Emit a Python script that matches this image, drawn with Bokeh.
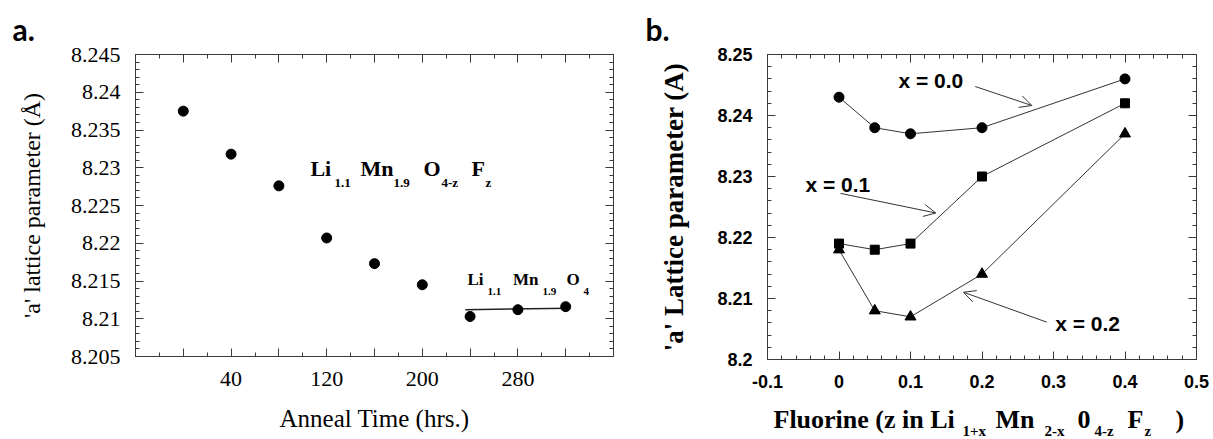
from bokeh.plotting import figure
from bokeh.layouts import row, column
from bokeh.models import (LinearAxis, FixedTicker, CustomJSTickFormatter, Label,
                          Arrow, OpenHead, Range1d)
from bokeh.embed import file_html
from bokeh.resources import INLINE

# ---------------- panel a data ----------------
anneal_time = [0, 40, 80, 120, 160, 200, 240, 280, 320]
lattice_a = [8.2375, 8.2318, 8.2276, 8.2207, 8.2173, 8.2145, 8.2103, 8.2112, 8.2116]
undoped_time = [236, 324]
undoped_a = [8.2112, 8.2114]
a_x_major = [-40, 0, 40, 80, 120, 160, 200, 240, 280, 320, 360]
a_x_labelled = [40, 120, 200, 280]
a_y_major = [8.205, 8.21, 8.215, 8.22, 8.225, 8.23, 8.235, 8.24, 8.245]

# ---------------- panel b data ----------------
fluorine_z = [0, 0.05, 0.1, 0.2, 0.4]
a_lat_x00 = [8.243, 8.238, 8.237, 8.238, 8.246]
a_lat_x01 = [8.219, 8.218, 8.219, 8.230, 8.242]
a_lat_x02 = [8.218, 8.208, 8.207, 8.214, 8.237]
b_x_major = [-0.1, 0, 0.1, 0.2, 0.3, 0.4, 0.5]
b_y_major = [8.2, 8.21, 8.22, 8.23, 8.24, 8.25]

LINE = "#3a3a3a"
SERIF = "Liberation Serif"
SANS = "Liberation Sans"


def minor_list(lo, hi, step):
    n = int(round((hi - lo) / step))
    return [round(lo + i * step, 6) for i in range(n + 1)]


def style_axis(ax, major, minor, fmt, font, size, style, standoff, show=True):
    ax.ticker = FixedTicker(ticks=major, minor_ticks=minor)
    ax.formatter = fmt
    ax.major_tick_in = 8
    ax.major_tick_out = 0
    ax.minor_tick_in = 4
    ax.minor_tick_out = 0
    ax.axis_line_color = LINE
    ax.major_tick_line_color = LINE
    ax.minor_tick_line_color = LINE
    ax.major_label_text_font = font
    ax.major_label_text_font_style = style
    ax.major_label_text_color = "black"
    if show:
        ax.major_label_text_font_size = size
        ax.major_label_standoff = standoff
    else:
        ax.major_label_text_font_size = "0px"
        ax.major_label_standoff = 0


def make_fig(w, h, xr, yr, bl, br, bt, bb, tag, tag_offset):
    p = figure(width=w, height=h, x_range=Range1d(*xr), y_range=Range1d(*yr),
               output_backend="svg", toolbar_location=None, frame_align=False,
               min_border_left=bl, min_border_right=br,
               min_border_top=bt, min_border_bottom=bb)
    p.grid.visible = False
    p.outline_line_color = LINE
    p.outline_line_width = 1
    p.background_fill_color = "white"
    p.border_fill_color = "white"
    # panel tag ("a." / "b.") as the figure title, shifted left of the frame
    p.title.text = tag
    p.title.align = "left"
    p.title.offset = tag_offset
    p.title.standoff = 16
    p.title.vertical_align = "bottom"
    p.title.text_font = "Lato"
    p.title.text_font_size = "30px"
    p.title.text_font_style = "bold"
    p.title.text_color = "black"
    return p


def text_strip(w, h):
    # blank strip whose frame covers the whole canvas (1 unit = 1 pixel)
    p = figure(width=w, height=h, x_range=Range1d(0, w), y_range=Range1d(0, h),
               output_backend="svg", toolbar_location=None, min_border=0,
               frame_align=False, title=None,
               x_axis_location=None, y_axis_location=None)
    p.xgrid.visible = False
    p.ygrid.visible = False
    p.outline_line_color = None
    p.background_fill_color = "white"
    p.border_fill_color = "white"
    return p


def set_title(ax, text, font, size, style, standoff):
    ax.axis_label = text
    ax.axis_label_text_font = font
    ax.axis_label_text_font_size = size
    ax.axis_label_text_font_style = style
    ax.axis_label_text_color = "black"
    ax.axis_label_standoff = standoff


def lab(p, x, y, text, size, font=SERIF, style="bold", align="left", baseline="middle"):
    p.add_layout(Label(x=x, y=y, text=text, text_font=font, text_font_size=size,
                       text_font_style=style, text_align=align, text_baseline=baseline,
                       text_color="black"))


num_fmt = CustomJSTickFormatter(code="return String(parseFloat(tick.toFixed(4)));")
blank_fmt = CustomJSTickFormatter(code="return '';")

# ================= panel a =================
p1 = make_fig(620, 439, (-40, 360), (8.205, 8.245), 135, 7, 52, 83, "a.", -123)
ax_fmt = CustomJSTickFormatter(args=dict(shown=a_x_labelled),
                               code="const t = Math.round(tick); return shown.includes(t) ? String(t) : '';")
a_xminor = minor_list(-40, 360, 20)
a_yminor = minor_list(8.205, 8.245, 0.001)
style_axis(p1.xaxis[0], a_x_major, a_xminor, ax_fmt, SERIF, "22px", "normal", 15)
style_axis(p1.yaxis[0], a_y_major, a_yminor, num_fmt, SERIF, "22px", "normal", 15)
set_title(p1.xaxis[0], "Anneal Time (hrs.)", SERIF, "25px", "normal", 16)
set_title(p1.yaxis[0], "'a' lattice parameter (Å)", SERIF, "24px", "normal", 23)
top1 = LinearAxis()
right1 = LinearAxis()
p1.add_layout(top1, "above")
p1.add_layout(right1, "right")
style_axis(top1, a_x_major, a_xminor, blank_fmt, SERIF, "22px", "normal", 0, show=False)
style_axis(right1, a_y_major, a_yminor, blank_fmt, SERIF, "22px", "normal", 0, show=False)

p1.line(undoped_time, undoped_a, line_color="#222222", line_width=1.5)
p1.scatter(anneal_time, lattice_a, marker="circle", size=10, color="black")

# formula Li1.1 Mn1.9 O4-z Fz
for x, y, t, s in [(106.4, 8.22993, "Li", "22px"), (126.5, 8.22803, "1.1", "13px"),
                   (148.3, 8.22993, "Mn", "22px"), (175.9, 8.22803, "1.9", "13px"),
                   (201.0, 8.22993, "O", "22px"), (216.1, 8.22803, "4-z", "13px"),
                   (241.2, 8.22993, "F", "22px"), (252.9, 8.22803, "z", "13px")]:
    lab(p1, x, y, t, s)
# formula Li1.1 Mn1.9 O4
for x, y, t, s in [(237.8, 8.21517, "Li", "17px"), (254.6, 8.21355, "1.1", "11px"),
                   (275.9, 8.21517, "Mn", "17px"), (300.6, 8.21355, "1.9", "11px"),
                   (320.7, 8.21517, "O", "17px"), (334.9, 8.21355, "4", "11px")]:
    lab(p1, x, y, t, s)

# ================= panel b =================
p2 = make_fig(593, 395, (-0.1, 0.5), (8.2, 8.25), 147, 17, 54, 36, "b.", -122)
b_xminor = minor_list(-0.1, 0.5, 0.02)
b_yminor = minor_list(8.2, 8.25, 0.002)
style_axis(p2.xaxis[0], b_x_major, b_xminor, num_fmt, SANS, "18px", "bold", 15)
style_axis(p2.yaxis[0], b_y_major, b_yminor, num_fmt, SANS, "18px", "bold", 15)
set_title(p2.yaxis[0], "'a' Lattice parameter (A)", SERIF, "27px", "bold", 25)
top2 = LinearAxis()
right2 = LinearAxis()
p2.add_layout(top2, "above")
p2.add_layout(right2, "right")
style_axis(top2, b_x_major, b_xminor, blank_fmt, SANS, "18px", "bold", 0, show=False)
style_axis(right2, b_y_major, b_yminor, blank_fmt, SANS, "18px", "bold", 0, show=False)

for series, marker, size in [(a_lat_x00, "circle", 10), (a_lat_x01, "square", 9),
                             (a_lat_x02, "triangle", 11)]:
    p2.line(fluorine_z, series, line_color="#333333", line_width=1)
    p2.scatter(fluorine_z, series, marker=marker, size=size, color="black")

lab(p2, 0.0832, 8.24574, "x = 0.0", "21px", font=SANS)
lab(p2, -0.0469, 8.22875, "x = 0.1", "21px", font=SANS)
lab(p2, 0.3024, 8.20585, "x = 0.2", "21px", font=SANS)

for xs, ys, xe, ye in [(0.1905, 8.24475, 0.2697, 8.24164),
                       (0.0021, 8.22723, 0.1354, 8.22402),
                       (0.2906, 8.20612, 0.1741, 8.21103)]:
    p2.add_layout(Arrow(end=OpenHead(size=12, line_width=1, line_color="#333333"),
                        x_start=xs, y_start=ys, x_end=xe, y_end=ye,
                        line_color="#333333", line_width=1))

# x-axis title with subscripts, in a strip under panel b
xlab2 = text_strip(593, 44)
for x, y, t, s in [(153, 20, "Fluorine (z in Li", "26px"), (342, 9, "1+x", "15px"),
                   (375, 20, "Mn", "26px"), (424, 9, "2-x", "15px"),
                   (457, 20, "0", "26px"), (474, 9, "4-z", "15px"),
                   (507, 20, "F", "26px"), (524, 9, "z", "15px"),
                   (555, 20, ")", "26px")]:
    lab(xlab2, x, y, t, s, baseline="alphabetic")

layout = row(p1, column(p2, xlab2))
open("out.html", "w").write(file_html(layout, INLINE))
